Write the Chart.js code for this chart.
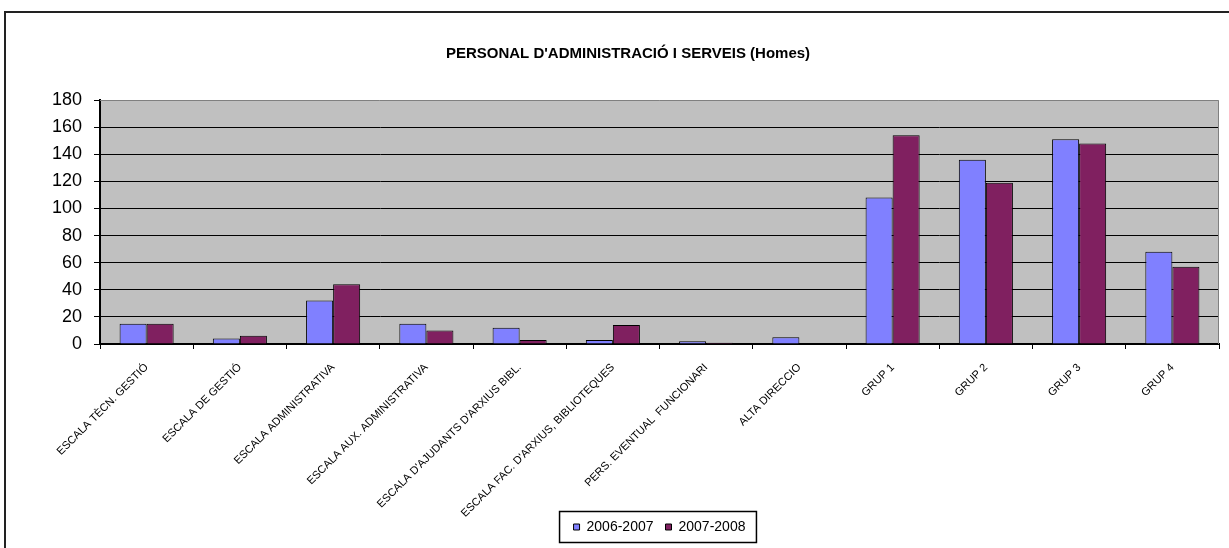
<!DOCTYPE html>
<html>
<head>
<meta charset="utf-8">
<script src="https://cdn.jsdelivr.net/npm/chart.js@4"></script>
<style>
  html, body { margin: 0; padding: 0; background: #fff; }
  #wrap { width: 1229px; height: 548px; position: relative; }
</style>
</head>
<body>
<div id="wrap"><canvas id="chart"></canvas></div>
<script>
const categories = [
  "ESCALA TÈCN. GESTIÓ",
  "ESCALA DE GESTIÓ",
  "ESCALA ADMINISTRATIVA",
  "ESCALA AUX. ADMINISTRATIVA",
  "ESCALA D'AJUDANTS D'ARXIUS BIBL.",
  "ESCALA FAC. D'ARXIUS, BIBLIOTEQUES",
  "PERS. EVENTUAL  FUNCIONARI",
  "ALTA DIRECCIO",
  "GRUP 1",
  "GRUP 2",
  "GRUP 3",
  "GRUP 4"
];
const series2006 = [15, 4, 32, 15, 12, 3, 2, 5, 108, 136, 151, 68];
const series2007 = [15, 6, 44, 10, 3, 14, 1, 0, 154, 119, 148, 57];
const yMin = 0, yMax = 180, yStep = 20;

const FONT = "'Liberation Sans', Arial, sans-serif";

// plot background, outer frame, plot border, legend box
const frame = {
  id: 'frame',
  afterLayout(chart) {
    // let the rotated category labels run past the axis box (they'd be clipped otherwise)
    chart.scales.x.bottom = chart.height;
  },
  beforeDraw(chart) {
    const { ctx, chartArea: a } = chart;
    ctx.save();
    ctx.fillStyle = '#fff';
    ctx.fillRect(0, 0, chart.width, chart.height);
    ctx.fillStyle = '#c0c0c0';
    ctx.fillRect(a.left, a.top, a.right - a.left, a.bottom - a.top);
    ctx.strokeStyle = '#222';
    ctx.lineWidth = 2;
    ctx.beginPath();
    ctx.moveTo(5, chart.height);
    ctx.lineTo(5, 12);
    ctx.lineTo(chart.width, 12);
    ctx.stroke();
    ctx.restore();
  },
  beforeDatasetsDraw(chart) {
    const { ctx, chartArea: a } = chart;
    ctx.save();
    ctx.strokeStyle = '#808080';
    ctx.lineWidth = 1;
    ctx.beginPath();
    ctx.moveTo(a.left, a.top + 0.5);
    ctx.lineTo(a.right - 0.5, a.top + 0.5);
    ctx.lineTo(a.right - 0.5, a.bottom);
    ctx.stroke();
    ctx.restore();
  },
  afterDraw(chart) {
    const boxes = chart.legend && chart.legend.legendHitBoxes;
    if (!boxes || !boxes.length) return;
    const first = boxes[0], last = boxes[boxes.length - 1];
    const cy = first.top + first.height / 2;
    const ctx = chart.ctx;
    ctx.save();
    ctx.strokeStyle = '#000';
    ctx.lineWidth = 1.5;
    ctx.strokeRect(first.left - 14, cy - 15.5, last.left + last.width - first.left + 25, 31);
    ctx.restore();
  }
};

new Chart(document.getElementById('chart'), {
  type: 'bar',
  data: {
    labels: categories,
    datasets: [
      { label: '2006-2007', data: series2006, backgroundColor: '#8080ff', borderColor: '#000', borderWidth: 1 },
      { label: '2007-2008', data: series2007, backgroundColor: '#802060', borderColor: '#000', borderWidth: 1 }
    ]
  },
  options: {
    responsive: true,
    maintainAspectRatio: false,
    animation: false,
    categoryPercentage: 0.58,
    barPercentage: 1,
    layout: { padding: { left: 27, right: 0, top: 0, bottom: 4 } },
    plugins: {
      title: {
        display: true,
        text: "PERSONAL D'ADMINISTRACIÓ I SERVEIS (Homes)",
        color: '#000',
        font: { family: FONT, size: 15, weight: 'bold' },
        padding: { top: 44.5, bottom: 37.5 }
      },
      legend: {
        position: 'bottom',
        fullSize: false,
        labels: {
          color: '#000',
          font: { family: FONT, size: 14 },
          boxWidth: 6,
          boxHeight: 6,
          padding: 12
        }
      },
      tooltip: { enabled: false }
    },
    scales: {
      x: {
        grid: { drawOnChartArea: false, drawTicks: true, tickLength: 5, tickColor: '#000' },
        border: { color: '#000', width: 2 },
        ticks: {
          autoSkip: false,
          minRotation: 45,
          maxRotation: 45,
          padding: 12,
          color: '#000',
          font: { family: FONT, size: 11 }
        },
        afterFit(scale) { scale.height = 164; }
      },
      y: {
        min: yMin,
        max: yMax,
        grid: {
          color: ctx => (ctx.tick && ctx.tick.value === yMax ? 'rgba(0,0,0,0)' : '#000'),
          lineWidth: 1,
          tickLength: 6,
          tickColor: '#000'
        },
        border: { color: '#000', width: 2 },
        ticks: {
          stepSize: yStep,
          padding: 12,
          color: '#000',
          font: { family: FONT, size: 18 }
        },
        afterFit(scale) { scale.width = 73; }
      },
      // empty right-hand strip so the plot stops short of the edge
      yRight: {
        type: 'linear',
        position: 'right',
        display: true,
        grid: { display: false },
        border: { display: false },
        ticks: { display: false },
        afterFit(scale) { scale.width = 10; }
      }
    }
  },
  plugins: [frame]
});
</script>
</body>
</html>
